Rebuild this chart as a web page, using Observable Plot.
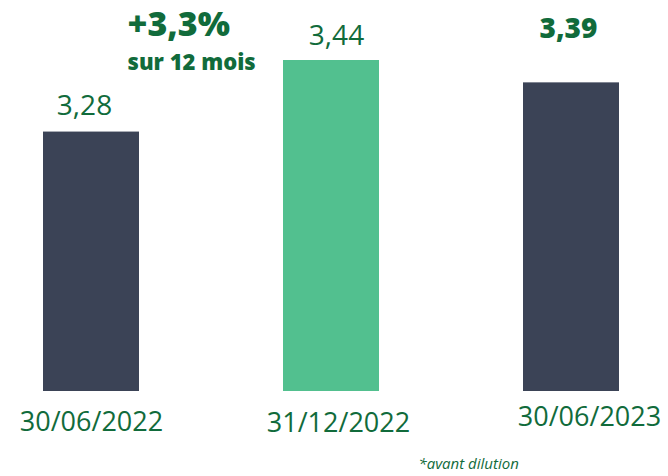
<!DOCTYPE html>
<html>
<head>
<meta charset="utf-8">
<script src="https://cdn.jsdelivr.net/npm/d3@7"></script>
<script src="https://cdn.jsdelivr.net/npm/@observablehq/plot@0.6"></script>
<style>
  html, body { margin: 0; padding: 0; background: #ffffff; }
  #chart { width: 668px; height: 476px; }
</style>
</head>
<body>
<div id="chart"></div>
<script>
const dates = ["30/06/2022", "31/12/2022", "30/06/2023"];
const values = [3.28, 3.44, 3.39];
const valueLabels = ["3,28", "3,44", "3,39"];
const highlighted = [false, true, false];
const boldLabel = [false, false, true];
const growthText = "+3,3%";
const growthSub = "sur 12 mois";
const footnote = "*avant dilution";
const baseValue = 2.7;

const data = dates.map((d, i) => ({
  date: d, value: values[i], label: valueLabels[i],
  hi: highlighted[i], bold: boldLabel[i]
}));

const GREEN_TEXT = "#116b3b";
const FONT = "Open Sans, Lato, sans-serif";

// small per-label nudges (styling only) to mimic the reference layout
const labelNudge = [{dx: 0, dy: 30.5}, {dx: 7, dy: 32}, {dx: 18, dy: 26}];
const valueNudge = [{dx: -7, dy: -26.5}, {dx: 5, dy: -24}, {dx: -3, dy: -54}];

const marks = [
  Plot.barY(data, {
    x: "date", y1: () => baseValue, y2: "value",
    fill: d => d.hi ? "#52c08f" : "#3b4356"
  })
];
data.forEach((d, i) => {
  marks.push(Plot.text([d], {
    x: "date", frameAnchor: "bottom", lineAnchor: "middle", text: "date",
    dx: labelNudge[i].dx, dy: labelNudge[i].dy,
    fontSize: 27, fill: GREEN_TEXT, fontFamily: FONT, ariaLabel: "xlabel"
  }));
  marks.push(Plot.text([d], {
    x: "date", y: "value", text: "label", lineAnchor: "middle",
    dx: valueNudge[i].dx, dy: valueNudge[i].dy,
    fontSize: 28, fontWeight: d.bold ? 800 : 400,
    fill: GREEN_TEXT, fontFamily: FONT, ariaLabel: d.bold ? "valuebold" : "value"
  }));
});
marks.push(
  Plot.text([growthText], {
    frameAnchor: "top-left", lineAnchor: "middle", text: d => d, dx: 127, dy: 24.5,
    textAnchor: "start", fontSize: 34, fontWeight: 800, fill: GREEN_TEXT, fontFamily: FONT,
    ariaLabel: "growth"
  }),
  Plot.text([growthSub], {
    frameAnchor: "top-left", lineAnchor: "middle", text: d => d, dx: 127, dy: 62,
    textAnchor: "start", fontSize: 22, fontWeight: 800, fill: GREEN_TEXT, fontFamily: FONT,
    ariaLabel: "growthsub"
  }),
  Plot.text([footnote], {
    frameAnchor: "bottom-left", lineAnchor: "middle", text: d => d, dx: 418, dy: 73,
    textAnchor: "start", fontSize: 15, fontStyle: "italic", fill: GREEN_TEXT, fontFamily: FONT,
    ariaLabel: "footnote"
  })
);

const chart = Plot.plot({
  width: 668,
  height: 476,
  marginTop: 0,
  marginLeft: 0,
  marginRight: 0,
  marginBottom: 85,
  style: { fontFamily: FONT, background: "#ffffff", overflow: "visible" },
  x: { domain: dates, range: [43, 619], paddingInner: 0.6, paddingOuter: 0, axis: null },
  y: { domain: [baseValue, 3.44], range: [391, 60], axis: null },
  marks
});

const sel = d3.select(chart);
sel.selectAll('g[aria-label="xlabel"] text').style("letter-spacing", "1px");
sel.selectAll('g[aria-label="value"] text').style("letter-spacing", "1.5px");
sel.selectAll('g[aria-label="valuebold"] text').style("letter-spacing", "0.5px");
sel.selectAll('g[aria-label="growth"] text').style("letter-spacing", "1.5px");
sel.selectAll('g[aria-label="growthsub"] text').style("letter-spacing", "0.6px");
sel.selectAll('g[aria-label="footnote"] text').style("letter-spacing", "1.1px");

document.getElementById("chart").appendChild(chart);
</script>
</body>
</html>
